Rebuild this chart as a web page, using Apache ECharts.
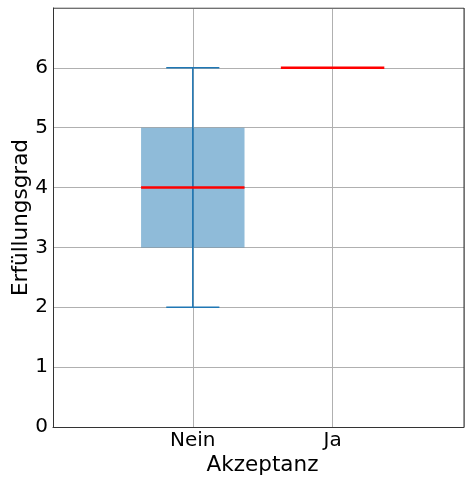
<!DOCTYPE html>
<html>
<head>
<meta charset="utf-8">
<script src="https://cdn.jsdelivr.net/npm/echarts@6/dist/echarts.min.js"></script>
<style>
  html, body { margin: 0; padding: 0; background: #fff; }
  #chart { width: 465px; height: 477px; }
</style>
</head>
<body>
<div id="chart"></div>
<script>
// categories and box stats: [min, q1, median, q3, max]
const categories = ['Nein', 'Ja'];
const positions = [1, 2];
const boxStats = [
  [2, 3, 4, 5, 6],
  [6, 6, 6, 6, 6]
];
const yTicks = [0, 1, 2, 3, 4, 5, 6];

const chart = echarts.init(document.getElementById('chart'));
const font = 'DejaVu Sans';
const blue = '#1f77b4';

const boxData = boxStats.map((s, i) => [positions[i]].concat(s));

chart.setOption({
  animation: false,
  grid: { left: 53, right: 1, top: 8, bottom: 50, containLabel: false, outerBoundsMode: 'none' },
  xAxis: {
    type: 'value',
    min: 0,
    max: 2.94,
    interval: 1,
    name: 'Akzeptanz',
    nameLocation: 'middle',
    nameGap: 27,
    nameMoveOverlap: false,
    nameTextStyle: { fontFamily: font, fontSize: 21.5, color: '#000', padding: [0, 0, 0, 8] },
    axisLine: { show: true, lineStyle: { color: '#333', width: 1 } },
    axisTick: { show: false },
    axisLabel: {
      fontFamily: font, fontSize: 20, color: '#000', margin: 4,
      showMaxLabel: false,
      formatter: v => {
        const k = positions.indexOf(v);
        return k >= 0 ? categories[k] : '';
      }
    },
    splitLine: { show: true, lineStyle: { color: '#b0b0b0', width: 1 } }
  },
  yAxis: {
    type: 'value',
    min: 0,
    max: 7,
    interval: 1,
    name: 'Erfüllungsgrad',
    nameLocation: 'middle',
    nameGap: 21,
    nameMoveOverlap: false,
    nameTextStyle: { fontFamily: font, fontSize: 21.5, color: '#000' },
    axisLine: { show: true, lineStyle: { color: '#333', width: 1 } },
    axisTick: { show: false },
    axisLabel: {
      fontFamily: font, fontSize: 20, color: '#000', margin: 5,
      formatter: v => (yTicks.indexOf(v) >= 0 ? String(v) : '')
    },
    splitLine: { show: true, lineStyle: { color: '#b0b0b0', width: 1 } }
  },
  series: [
    {
      // frame: top and right spines
      type: 'line',
      data: [[0, 7], [2.94, 7], [2.94, 0]],
      symbol: 'none',
      lineStyle: { color: '#333', width: 1 },
      silent: true,
      z: 1
    },
    {
      type: 'custom',
      data: boxData,
      encode: { x: 0, y: [1, 2, 3, 4, 5] },
      renderItem: (params, api) => {
        const x = api.value(0);
        const mn = api.value(1), q1 = api.value(2), md = api.value(3), q3 = api.value(4), mx = api.value(5);
        const half = 0.37, cap = 0.19;
        const p = (a, b) => api.coord([a, b]);
        const children = [];
        if (mx > mn) {
          children.push({
            type: 'line',
            shape: { x1: p(x, mn)[0], y1: p(x, mn)[1], x2: p(x, mx)[0], y2: p(x, mx)[1] },
            style: { stroke: blue, lineWidth: 1.5 }
          });
          children.push({
            type: 'line',
            shape: { x1: p(x - cap, mn)[0], y1: p(x, mn)[1], x2: p(x + cap, mn)[0], y2: p(x, mn)[1] },
            style: { stroke: blue, lineWidth: 1.5 }
          });
          children.push({
            type: 'line',
            shape: { x1: p(x - cap, mx)[0], y1: p(x, mx)[1], x2: p(x + cap, mx)[0], y2: p(x, mx)[1] },
            style: { stroke: blue, lineWidth: 1.5 }
          });
        }
        if (q3 > q1) {
          const a = p(x - half, q3), b = p(x + half, q1);
          children.push({
            type: 'rect',
            shape: { x: a[0], y: a[1], width: b[0] - a[0], height: b[1] - a[1] },
            style: { fill: 'rgba(31,119,180,0.5)' }
          });
        }
        const m1 = p(x - half, md), m2 = p(x + half, md);
        children.push({
          type: 'line',
          shape: { x1: m1[0], y1: m1[1], x2: m2[0], y2: m2[1] },
          style: { stroke: '#ff0000', lineWidth: 2.5 }
        });
        return { type: 'group', children: children };
      },
      z: 2
    }
  ]
});
</script>
</body>
</html>
